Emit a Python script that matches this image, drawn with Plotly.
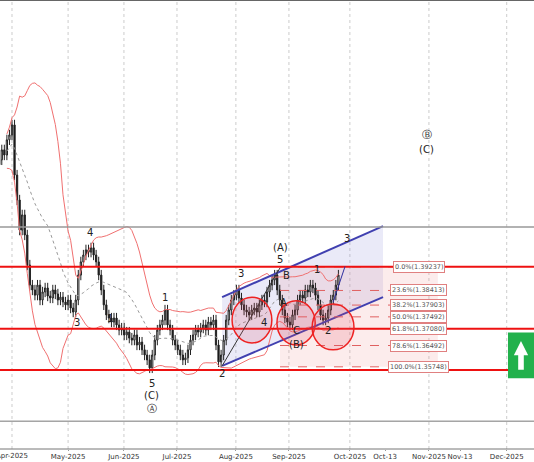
import numpy as np
import pandas as pd
import plotly.graph_objects as go

# daily closes, bar index 0 = 2025-03-25
closes = [1.4297, 1.4332, 1.4314, 1.4367, 1.4384, 1.4419,
          1.4244, 1.4157, 1.4052, 1.4105, 1.4035,
          1.3930, 1.3860,
          1.3843, 1.3825, 1.3860, 1.3808, 1.3836, 1.3850, 1.3822, 1.3815, 1.3843,
          1.3829, 1.3808, 1.3818, 1.3801, 1.3791, 1.3808, 1.3780, 1.3766,
          1.3808, 1.3895, 1.3941, 1.3965, 1.3983, 1.3975, 1.3990, 1.3965, 1.3941, 1.3895,
          1.3843, 1.3791, 1.3756, 1.3745,
          1.3731, 1.3745, 1.3721, 1.3703, 1.3710, 1.3686, 1.3696, 1.3675, 1.3668, 1.3686,
          1.3651, 1.3661, 1.3634, 1.3616, 1.3599, 1.3571,
          1.3616, 1.3668, 1.3703, 1.3721, 1.3738, 1.3773, 1.3721,
          1.3703, 1.3668, 1.3651, 1.3634, 1.3616, 1.3599, 1.3606, 1.3634,
          1.3668, 1.3686, 1.3703, 1.3696, 1.3710, 1.3721, 1.3703, 1.3731, 1.3721, 1.3738,
          1.3651, 1.3592, 1.3616,
          1.3668, 1.3738, 1.3773, 1.3808, 1.3825, 1.3843, 1.3815,
          1.3791, 1.3773, 1.3766, 1.3756, 1.3773, 1.3780, 1.3766, 1.3791, 1.3808, 1.3801,
          1.3836, 1.3860, 1.3878, 1.3895, 1.3843,
          1.3808, 1.3773, 1.3745, 1.3731, 1.3721, 1.3756, 1.3773,
          1.3808, 1.3825, 1.3815, 1.3843, 1.3836, 1.3860, 1.3850, 1.3825, 1.3791,
          1.3756, 1.3738, 1.3745, 1.3773,
          1.3808, 1.3825, 1.3860, 1.3895]
first_open = 1.4280
wick = 0.0018

tick_pos = [5, 27, 48.9, 69.7, 92.8, 113.6, 137.5, 151.3, 168.5, 180.7, 199]
tick_text = ["Apr-2025", "May-2025", "Jun-2025", "Jul-2025", "Aug-2025", "Sep-2025",
             "Oct-2025", "Oct-13", "Nov-2025", "Nov-13", "Dec-2025"]
month_grid = [5, 27, 48.9, 69.7, 92.8, 113.6, 137.5, 168.5, 199]

red_levels = [1.39237, 1.37080, 1.35640]
gray_level = 1.4063
fib_pct = ["0.0%", "23.6%", "38.2%", "50.0%", "61.8%", "78.6%", "100.0%"]
fib_val = [1.39237, 1.38413, 1.37903, 1.37492, 1.37080, 1.36492, 1.35748]

labels = [("4", 35.6, 1.4042), ("3", 30.5, 1.3728), ("1", 43.4, 1.3745), ("1", 65, 1.3818),
          ("5", 59.9, 1.3518), ("(C)", 59.9, 1.3473), ("Ⓐ", 59.9, 1.3431),
          ("2", 87.4, 1.3550), ("3", 94.8, 1.3902), ("(A)", 110.1, 1.3990), ("5", 110.1, 1.3948),
          ("B", 112.8, 1.3892), ("A", 111.5, 1.3801), ("4", 103.8, 1.3728), ("C", 116.4, 1.3703),
          ("(B)", 116.4, 1.3654), ("1", 124.6, 1.3913), ("2", 128.9, 1.3700), ("3", 136.4, 1.4024),
          ("Ⓑ", 167.7, 1.4384), ("(C)", 167.7, 1.4335)]

c = pd.Series(closes)
o = c.shift(1).fillna(first_open)
hi = np.maximum(o, c) + wick
lo = np.minimum(o, c) - wick
idx = np.arange(len(c))
mid = c.rolling(20, min_periods=4).mean()
sd = c.rolling(20, min_periods=4).std()

fig = go.Figure()
fig.add_trace(go.Scatter(x=idx, y=mid + 2 * sd, mode="lines", line=dict(color="#f07070", width=1), hoverinfo="skip"))
fig.add_trace(go.Scatter(x=idx, y=mid - 2 * sd, mode="lines", line=dict(color="#f07070", width=1), hoverinfo="skip"))
fig.add_trace(go.Scatter(x=idx, y=mid, mode="lines", line=dict(color="#999", width=1, dash="dot"), hoverinfo="skip"))
fig.add_trace(go.Candlestick(x=idx, open=o, high=hi, low=lo, close=c,
                             increasing=dict(line=dict(color="#222", width=1), fillcolor="white"),
                             decreasing=dict(line=dict(color="#222", width=1), fillcolor="#111"),
                             whiskerwidth=0))

shapes = []
for g in month_grid:
    shapes.append(dict(type="line", xref="x", yref="paper", x0=g, x1=g, y0=0, y1=1,
                       line=dict(color="#ccc", width=1, dash="dot"), layer="below"))
# channel
shapes.append(dict(type="path", path="M 87.4,1.3818 L 150.5,1.4066 L 150.5,1.3818 L 87.4,1.3578 Z",
                   fillcolor="rgba(150,150,220,0.2)", line=dict(width=0), layer="below"))
shapes.append(dict(type="line", x0=87.4, y0=1.3818, x1=150.5, y1=1.4066, line=dict(color="#4040b0", width=2)))
shapes.append(dict(type="line", x0=87.4, y0=1.3578, x1=150.5, y1=1.3818, line=dict(color="#4040b0", width=2)))
# fibonacci box
shapes.append(dict(type="rect", x0=110.1, x1=172, y0=fib_val[-1], y1=fib_val[0],
                   fillcolor="rgba(240,150,150,0.18)", line=dict(width=0), layer="below"))
for v in fib_val:
    shapes.append(dict(type="line", x0=110.1, x1=160, y0=v, y1=v, line=dict(color="#e06060", width=1, dash="dash")))
for lv in red_levels:
    shapes.append(dict(type="line", xref="paper", x0=0, x1=1, y0=lv, y1=lv, line=dict(color="#ee1111", width=2)))
shapes.append(dict(type="line", xref="paper", x0=0, x1=1, y0=gray_level, y1=gray_level, line=dict(color="#999", width=1.5)))
# wave lines
shapes.append(dict(type="line", x0=87.4, y0=1.3578, x1=110.1, y1=1.3920, line=dict(color="#333", width=1)))
shapes.append(dict(type="line", x0=130.9, y0=1.3800, x1=135.6, y1=1.3925, line=dict(color="#3030a0", width=1)))
# circles
for x0, x1, y0, y1 in [(91.3, 106.9, 1.3658, 1.3818), (108.9, 123.9, 1.3651, 1.3805), (122.7, 139.1, 1.3634, 1.3794)]:
    shapes.append(dict(type="circle", x0=x0, x1=x1, y0=y0, y1=y1,
                       fillcolor="rgba(230,80,100,0.18)", line=dict(color="#ee2222", width=1.5)))
# panes / frame
shapes.append(dict(type="line", xref="paper", yref="paper", x0=0, x1=1, y0=1, y1=1, line=dict(color="#666", width=2)))
shapes.append(dict(type="line", xref="paper", yref="paper", x0=0, x1=1, y0=0.062, y1=0.062, line=dict(color="#777", width=1)))
shapes.append(dict(type="line", xref="paper", yref="paper", x0=0, x1=1, y0=0, y1=0, line=dict(color="#777", width=1)))
# green arrow box
shapes.append(dict(type="rect", xref="x", yref="y", x0=199.5, x1=209.7, y0=1.3535, y1=1.3695,
                   fillcolor="#22b14c", line=dict(width=0)))
shapes.append(dict(type="path", path="M 201.8,1.3615 L 204.6,1.3665 L 207.4,1.3615 L 205.7,1.3615 L 205.7,1.3565 L 203.5,1.3565 L 203.5,1.3615 Z",
                   fillcolor="white", line=dict(width=0)))

ann = []
for t, x, y in labels:
    ann.append(dict(x=x, y=y, text=t, showarrow=False, font=dict(size=10, color="#222")))
for p, v in zip(fib_pct, fib_val):
    ann.append(dict(x=164.5, y=v, text=f"{p}({v:.5f})", showarrow=False, font=dict(size=6.5, color="#555"),
                    bgcolor="white", bordercolor="#e08080", borderwidth=1, borderpad=1))
# first tick label sits partly off the left edge, so draw it as an annotation
ann.append(dict(x=tick_pos[0], xref="x", y=0, yref="paper", yanchor="top", yshift=-1, text=tick_text[0],
                showarrow=False, font=dict(size=7, color="#333")))

fig.update_layout(width=534, height=462, margin=dict(l=0, r=0, t=0, b=13, autoexpand=False),
                  plot_bgcolor="white", paper_bgcolor="white", showlegend=False,
                  font=dict(family="DejaVu Sans"), shapes=shapes, annotations=ann,
                  xaxis=dict(range=[0.3, 209.7], autorange=False, tickvals=tick_pos[1:], ticktext=tick_text[1:],
                             showgrid=False, tickangle=0, automargin=False,
                             tickfont=dict(size=7, color="#333"), rangeslider=dict(visible=False),
                             ticks="outside", ticklen=1, tickcolor="#999", zeroline=False),
                  yaxis=dict(range=[1.3288, 1.4855], autorange=False, showticklabels=False,
                             showgrid=False, zeroline=False, automargin=False))
fig.write_html("out.html", config={"displayModeBar": False},
               post_script="document.body.style.margin='0';")
